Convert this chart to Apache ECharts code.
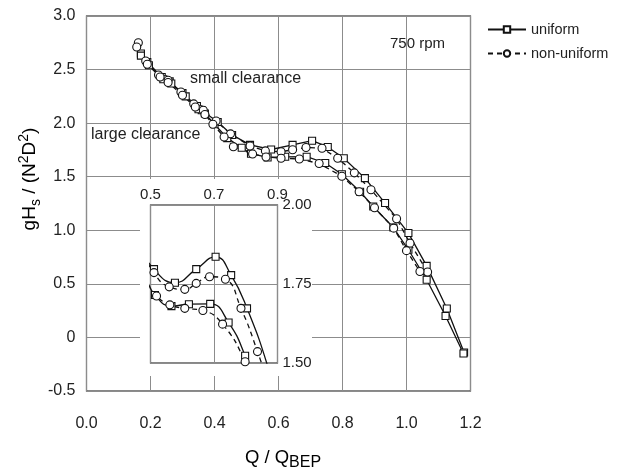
<!DOCTYPE html>
<html>
<head>
<meta charset="utf-8">
<script src="https://cdn.jsdelivr.net/npm/echarts@6/dist/echarts.min.js"></script>
<style>
html,body{margin:0;padding:0;background:#fff;}
#chart{width:628px;height:474px;}
</style>
</head>
<body>
<div id="chart"></div>
<script>
// ---- data ----
const xTicks = ['0.0','0.2','0.4','0.6','0.8','1.0','1.2'];
const yTicks = ['-0.5','0','0.5','1.0','1.5','2.0','2.5','3.0'];

// uniform, small clearance (squares, solid)
const uniSmallQ = [0.17,0.19,0.235,0.26,0.30,0.345,0.36,0.41,0.455,0.511,0.577,0.644,0.705,0.754,0.804,0.870,0.933,1.006,1.063,1.126,1.180];
const uniSmallH = [2.65,2.57,2.43,2.39,2.28,2.16,2.12,2.01,1.89,1.797,1.754,1.797,1.836,1.778,1.673,1.487,1.254,0.974,0.668,0.27,-0.14];
// uniform, large clearance (squares, solid)
const uniLargeQ = [0.17,0.195,0.24,0.265,0.31,0.35,0.37,0.40,0.44,0.485,0.514,0.566,0.621,0.688,0.746,0.798,0.855,0.896,0.959,1.006,1.063,1.122,1.178];
const uniLargeH = [2.63,2.54,2.41,2.37,2.25,2.13,2.09,1.99,1.86,1.77,1.715,1.68,1.686,1.687,1.628,1.523,1.36,1.222,1.026,0.818,0.538,0.20,-0.15];
// non-uniform, small clearance (circles, dashed)
const nonSmallQ = [0.162,0.185,0.225,0.255,0.295,0.335,0.365,0.405,0.45,0.511,0.559,0.608,0.644,0.686,0.736,0.785,0.837,0.889,0.969,1.011,1.066];
const nonSmallH = [2.75,2.58,2.45,2.40,2.29,2.18,2.12,2.02,1.90,1.786,1.741,1.733,1.752,1.773,1.765,1.673,1.536,1.378,1.107,0.88,0.61];
// non-uniform, large clearance (circles, dashed)
const nonLargeQ = [0.157,0.19,0.23,0.255,0.30,0.34,0.37,0.395,0.43,0.459,0.519,0.561,0.608,0.665,0.727,0.798,0.852,0.90,0.96,1.00,1.042];
const nonLargeH = [2.71,2.55,2.43,2.38,2.26,2.15,2.08,1.99,1.87,1.78,1.712,1.684,1.673,1.666,1.623,1.504,1.36,1.21,1.02,0.81,0.615];

const insetXTicks = ['0.5','0.7','0.9'];
const insetYTicks = ['1.50','1.75','2.00'];

function zip(q, h) { return q.map((v, i) => [v, h[i]]); }

const FONT = '"Liberation Sans", Arial, Helvetica, sans-serif';
const INK = '#111';

const chart = echarts.init(document.getElementById('chart'), null, {renderer: 'canvas'});

function mkSeries(name, q, h, dashed, symbol, xi, yi, smooth, z) {
  return {
    name: name,
    type: 'line',
    xAxisIndex: xi, yAxisIndex: yi,
    data: zip(q, h),
    smooth: smooth,
    clip: true,
    symbol: symbol,
    symbolSize: symbol === 'rect' ? 7 : 8,
    showAllSymbol: true,
    z: z,
    lineStyle: {color: INK, width: 1.3, type: dashed ? [5, 4] : 'solid'},
    itemStyle: {color: '#fff', borderColor: INK, borderWidth: 1.1},
    emphasis: {disabled: true},
    animation: false
  };
}

const series = [
  mkSeries('uniform', uniSmallQ, uniSmallH, false, 'rect', 0, 0, false, 2),
  mkSeries('uniform', uniLargeQ, uniLargeH, false, 'rect', 0, 0, false, 2),
  mkSeries('non-uniform', nonSmallQ, nonSmallH, true, 'circle', 0, 0, false, 2),
  mkSeries('non-uniform', nonLargeQ, nonLargeH, true, 'circle', 0, 0, false, 2),
  mkSeries('uniform', uniSmallQ, uniSmallH, false, 'rect', 1, 1, true, 6),
  mkSeries('uniform', uniLargeQ, uniLargeH, false, 'rect', 1, 1, true, 6),
  mkSeries('non-uniform', nonSmallQ, nonSmallH, true, 'circle', 1, 1, true, 6),
  mkSeries('non-uniform', nonLargeQ, nonLargeH, true, 'circle', 1, 1, true, 6)
];

const option = {
  animation: false,
  backgroundColor: '#fff',
  textStyle: {fontFamily: FONT},
  grid: [
    {left: 86.5, top: 16, width: 384, height: 375, show: true, borderColor: INK, borderWidth: 1.2, backgroundColor: 'transparent', containLabel: false},
    {left: 150.5, top: 205, width: 127, height: 158, show: true, borderColor: INK, borderWidth: 1.2, backgroundColor: '#fff', z: 4}
  ],
  xAxis: [
    {type: 'value', gridIndex: 0, min: 0, max: 1.2, interval: 0.2,
     axisLine: {show: false}, axisTick: {show: false},
     splitLine: {show: true, lineStyle: {color: '#8c8c8c', width: 1}},
     axisLabel: {margin: 25, fontSize: 16, color: '#222', fontFamily: FONT,
       formatter: v => xTicks[Math.round(v / 0.2)]}},
    {type: 'value', gridIndex: 1, min: 0.5, max: 0.9, interval: 0.2, position: 'top', z: 5,
     axisLine: {show: false}, axisTick: {show: false},
     splitLine: {show: true, lineStyle: {color: '#8c8c8c', width: 1}},
     axisLabel: {margin: 3, fontSize: 15, color: '#222', fontFamily: FONT,
       formatter: v => insetXTicks[Math.round((v - 0.5) / 0.2)]}}
  ],
  yAxis: [
    {type: 'value', gridIndex: 0, min: -0.5, max: 3.0, interval: 0.5,
     axisLine: {show: false}, axisTick: {show: false},
     splitLine: {show: true, lineStyle: {color: '#8c8c8c', width: 1}},
     axisLabel: {margin: 11, fontSize: 16, color: '#222', fontFamily: FONT,
       formatter: v => yTicks[Math.round((v + 0.5) / 0.5)]}},
    {type: 'value', gridIndex: 1, min: 1.5, max: 2.0, interval: 0.25, position: 'right', z: 5,
     axisLine: {show: false}, axisTick: {show: false},
     splitLine: {show: true, lineStyle: {color: '#8c8c8c', width: 1}},
     axisLabel: {margin: 5, fontSize: 15, color: '#222', fontFamily: FONT,
       formatter: v => insetYTicks[Math.round((v - 1.5) / 0.25)]}}
  ],
  legend: {
    orient: 'vertical', left: 482, top: 17,
    itemWidth: 38, itemHeight: 8, itemGap: 9,
    data: ['uniform', 'non-uniform'],
    textStyle: {fontSize: 14.5, lineHeight: 15, color: '#222', fontFamily: FONT},
    selectedMode: false
  },
  graphic: [
    {type: 'rect', z: 1, silent: true, shape: {x: 140, y: 179, width: 172, height: 197}, style: {fill: '#fff'}},
    {type: 'text', z: 10, left: 390, top: 36, style: {text: '750 rpm', font: '15px ' + FONT, fill: '#222'}},
    {type: 'text', z: 10, left: 190, top: 71, style: {text: 'small clearance', font: '16px ' + FONT, fill: '#222'}},
    {type: 'text', z: 10, left: 91, top: 127, style: {text: 'large clearance', font: '16px ' + FONT, fill: '#222'}},
    {type: 'text', z: 10, x: 283, y: 458, style: {
      text: '{a|Q / Q}{sub|BEP}', align: 'center', verticalAlign: 'middle',
      rich: {
        a: {fontSize: 18.5, fontFamily: FONT, color: '#222', lineHeight: 26, verticalAlign: 'middle'},
        sub: {fontSize: 16, fontFamily: FONT, color: '#222', lineHeight: 14, verticalAlign: 'bottom'}
      }}},
    {type: 'text', z: 10, x: 30, y: 179, rotation: Math.PI / 2, style: {
      text: '{a|gH}{sub|s}{a| / (N}{sup|2}{a|D}{sup|2}{a|)}', align: 'center', verticalAlign: 'middle',
      rich: {
        a: {fontSize: 19, fontFamily: FONT, color: '#222', lineHeight: 26, verticalAlign: 'middle'},
        sub: {fontSize: 14, fontFamily: FONT, color: '#222', lineHeight: 13, verticalAlign: 'bottom'},
        sup: {fontSize: 14, fontFamily: FONT, color: '#222', lineHeight: 13, verticalAlign: 'top'}
      }}}
  ],
  series: series
};
chart.setOption(option);
</script>
</body>
</html>
